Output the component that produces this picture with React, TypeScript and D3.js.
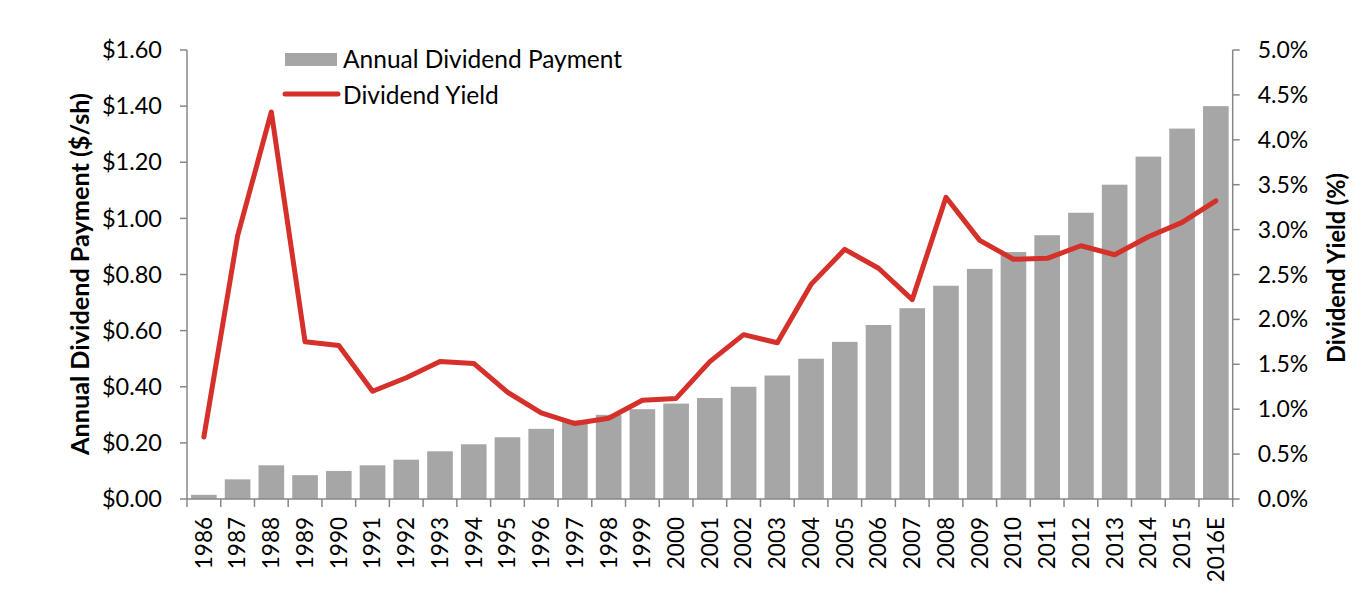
import React from "react";
import * as d3 from "d3";

const years = ["1986","1987","1988","1989","1990","1991","1992","1993","1994","1995","1996","1997","1998","1999","2000","2001","2002","2003","2004","2005","2006","2007","2008","2009","2010","2011","2012","2013","2014","2015","2016E"];
const dividends = [0.015,0.07,0.12,0.085,0.10,0.12,0.14,0.17,0.195,0.22,0.25,0.28,0.30,0.32,0.34,0.36,0.40,0.44,0.50,0.56,0.62,0.68,0.76,0.82,0.88,0.94,1.02,1.12,1.22,1.32,1.40];
const yields = [0.69,2.93,4.31,1.75,1.71,1.20,1.35,1.53,1.51,1.19,0.96,0.84,0.90,1.10,1.12,1.53,1.83,1.74,2.39,2.78,2.57,2.22,3.36,2.88,2.67,2.68,2.82,2.72,2.92,3.08,3.32];
const leftTicks = [0,0.2,0.4,0.6,0.8,1.0,1.2,1.4,1.6];
const rightTicks = [0,0.5,1.0,1.5,2.0,2.5,3.0,3.5,4.0,4.5,5.0];

const W = 1370, H = 608;
const left = 187, right = 1232.7, top = 50, bottom = 499;
const FONT = "Lato, 'Open Sans', sans-serif";
const AXIS = "#878787";
const BAR = "#A6A6A6";
const RED = "#D6302A";

export default function App() {
  const x = d3.scaleBand<string>().domain(years).range([left, right]).paddingInner(0.24).paddingOuter(0.12);
  const xStep = (right - left) / years.length;
  const yL = d3.scaleLinear().domain([0, 1.6]).range([bottom, top]);
  const yR = d3.scaleLinear().domain([0, 5]).range([bottom, top]);
  const line = d3.line<number>()
    .x((_, i) => (x(years[i]) as number) + x.bandwidth() / 2)
    .y((d) => yR(d));

  return (
    <svg width={W} height={H} style={{ position: "absolute", left: 0, top: 0 }} fontFamily={FONT}>
      <rect width={W} height={H} fill="#fff" />
      {years.map((yr, i) => (
        <rect key={yr} x={x(yr)} y={yL(dividends[i])} width={x.bandwidth()} height={bottom - yL(dividends[i])} fill={BAR} />
      ))}
      {/* left axis */}
      <line x1={left} x2={left} y1={top} y2={bottom} stroke={AXIS} strokeWidth={1.5} />
      {leftTicks.map((t) => (
        <g key={t}>
          <line x1={left - 7} x2={left} y1={yL(t)} y2={yL(t)} stroke={AXIS} strokeWidth={1.5} />
          <text x={left - 25} y={yL(t)} dy="0.35em" textAnchor="end" fontSize={23.5} fill="#000">{d3.format("$.2f")(t)}</text>
        </g>
      ))}
      {/* right axis */}
      <line x1={right} x2={right} y1={top} y2={bottom} stroke={AXIS} strokeWidth={1.5} />
      {rightTicks.map((t) => (
        <g key={t}>
          <line x1={right} x2={right + 7} y1={yR(t)} y2={yR(t)} stroke={AXIS} strokeWidth={1.5} />
          <text x={right + 25} y={yR(t)} dy="0.35em" textAnchor="start" fontSize={23} fill="#000">{t.toFixed(1) + "%"}</text>
        </g>
      ))}
      {/* x axis */}
      <line x1={left} x2={right} y1={bottom} y2={bottom} stroke={AXIS} strokeWidth={1.5} />
      {d3.range(years.length + 1).map((i) => (
        <line key={i} x1={left + i * xStep} x2={left + i * xStep} y1={bottom} y2={bottom + 8} stroke={AXIS} strokeWidth={1.5} />
      ))}
      {years.map((yr) => {
        const cx = (x(yr) as number) + x.bandwidth() / 2;
        return (
          <text key={yr} transform={`translate(${cx},${bottom + 18}) rotate(-90)`} dy="0.35em" textAnchor="end" fontSize={22.5} fill="#000">{yr}</text>
        );
      })}
      {/* yield line */}
      <path d={line(yields) as string} fill="none" stroke={RED} strokeWidth={5} strokeLinejoin="round" strokeLinecap="round" />
      {/* axis titles */}
      <text transform={`translate(89,274) rotate(-90)`} textAnchor="middle" fontSize={25} fontWeight="bold" fill="#000" textLength={362} lengthAdjust="spacingAndGlyphs">Annual Dividend Payment ($/sh)</text>
      <text transform={`translate(1336,268) rotate(-90)`} dy="0.35em" textAnchor="middle" fontSize={25} fontWeight="bold" fill="#000" textLength={190} lengthAdjust="spacingAndGlyphs">Dividend Yield (%)</text>
      {/* legend */}
      <rect x={285} y={53} width={52} height={13} fill={BAR} />
      <text x={343} y={59} dy="0.35em" fontSize={24.5} fill="#000">Annual Dividend Payment</text>
      <line x1={285} x2={338} y1={94} y2={94} stroke={RED} strokeWidth={5} strokeLinecap="round" />
      <text x={343} y={95} dy="0.35em" fontSize={24.5} fill="#000">Dividend Yield</text>
    </svg>
  );
}
